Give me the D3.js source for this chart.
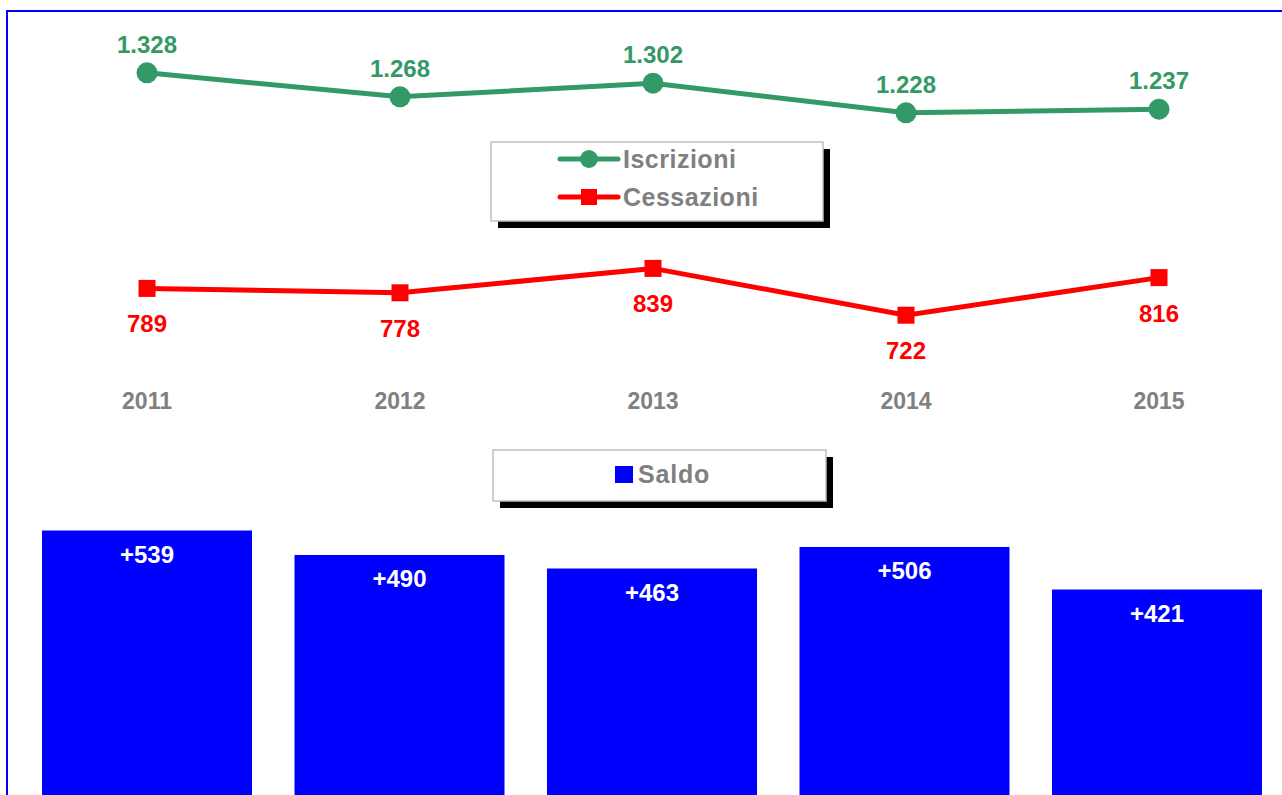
<!DOCTYPE html>
<html>
<head>
<meta charset="utf-8">
<script src="https://cdn.jsdelivr.net/npm/d3@7"></script>
<style>
  html, body { margin: 0; padding: 0; background: #fff; overflow: hidden; }
  svg { display: block; font-family: "Liberation Sans", Arial, sans-serif; font-weight: bold; }
</style>
</head>
<body>
<script>
const years = ["2011", "2012", "2013", "2014", "2015"];
const iscrizioni = [1328, 1268, 1302, 1228, 1237];
const cessazioni = [789, 778, 839, 722, 816];
const saldo = [539, 490, 463, 506, 421];
const seriesNames = ["Iscrizioni", "Cessazioni"];
const barSeriesName = "Saldo";

const W = 1282, H = 795;
const green = "#339966", red = "#ff0000", blue = "#0000ff", gray = "#808080";

const svg = d3.select("body").append("svg").attr("width", W).attr("height", H);

// frame
svg.append("line").attr("x1", 7).attr("x2", W).attr("y1", 11).attr("y2", 11)
  .attr("stroke", blue).attr("stroke-width", 2);
svg.append("line").attr("x1", 7).attr("x2", 7).attr("y1", 10).attr("y2", H)
  .attr("stroke", blue).attr("stroke-width", 2);

const itLocale = d3.formatLocale({ decimal: ",", thousands: ".", grouping: [3], currency: ["€", ""] });
const fmtThousands = itLocale.format(",d");

const x = d3.scalePoint().domain(years).range([147, 1159]);
const xb = d3.scaleBand().domain(years).range([20.75, 1283.25]).paddingInner(0.1683).paddingOuter(0.0842);
const y = d3.scaleLinear().domain([0, 1500]).range([604, 4]);
const yb = d3.scaleLinear().domain([0, 600]).range([800, 500]);

const FS = 24;

// bars
const bars = svg.append("g");
bars.selectAll("rect").data(saldo).join("rect")
  .attr("x", (d, i) => xb(years[i]))
  .attr("y", d => yb(d))
  .attr("width", xb.bandwidth())
  .attr("height", d => yb(0) - yb(d))
  .attr("fill", blue);
bars.selectAll("text").data(saldo).join("text")
  .attr("x", (d, i) => xb(years[i]) + xb.bandwidth() / 2)
  .attr("y", d => yb(d) + 32)
  .attr("text-anchor", "middle")
  .attr("font-size", FS).attr("fill", "#fff")
  .text(d => "+" + d);

// lines
const line = d3.line().x((d, i) => x(years[i])).y(d => y(d));
svg.append("path").datum(iscrizioni).attr("d", line)
  .attr("fill", "none").attr("stroke", green).attr("stroke-width", 5);
svg.append("path").datum(cessazioni).attr("d", line)
  .attr("fill", "none").attr("stroke", red).attr("stroke-width", 5);

svg.append("g").selectAll("circle").data(iscrizioni).join("circle")
  .attr("cx", (d, i) => x(years[i])).attr("cy", d => y(d)).attr("r", 10.5)
  .attr("fill", green);
svg.append("g").selectAll("rect").data(cessazioni).join("rect")
  .attr("x", (d, i) => x(years[i]) - 8.5).attr("y", d => y(d) - 8.5)
  .attr("width", 17).attr("height", 17).attr("fill", red);

svg.append("g").selectAll("text").data(iscrizioni).join("text")
  .attr("x", (d, i) => x(years[i])).attr("y", d => y(d) - 20)
  .attr("text-anchor", "middle").attr("font-size", FS).attr("fill", green)
  .text(d => fmtThousands(d));
svg.append("g").selectAll("text").data(cessazioni).join("text")
  .attr("x", (d, i) => x(years[i])).attr("y", d => y(d) + 44)
  .attr("text-anchor", "middle").attr("font-size", FS).attr("fill", red)
  .text(d => fmtThousands(d));

// year axis labels
svg.append("g").selectAll("text").data(years).join("text")
  .attr("x", d => x(d)).attr("y", 409)
  .attr("text-anchor", "middle").attr("font-size", 23).attr("fill", gray)
  .text(d => d);

// legend boxes
function box(x0, y0, w, h) {
  svg.append("rect").attr("x", x0 + 7).attr("y", y0 + 7).attr("width", w).attr("height", h).attr("fill", "#000");
  svg.append("rect").attr("x", x0).attr("y", y0).attr("width", w).attr("height", h)
    .attr("fill", "#fff").attr("stroke", "#c0c0c0").attr("stroke-width", 1.5);
}
box(491, 142, 332, 79);
const lg = svg.append("g");
[[green, 159, "circle"], [red, 197, "square"]].forEach(([c, yy, m], i) => {
  lg.append("line").attr("x1", 560).attr("x2", 618).attr("y1", yy).attr("y2", yy)
    .attr("stroke", c).attr("stroke-width", 5).attr("stroke-linecap", "round");
  if (m === "circle") lg.append("circle").attr("cx", 589).attr("cy", yy).attr("r", 9).attr("fill", c);
  else lg.append("rect").attr("x", 581).attr("y", yy - 8).attr("width", 16).attr("height", 16).attr("fill", c);
  lg.append("text").attr("x", 623).attr("y", yy + 9).attr("font-size", 25)
    .attr("letter-spacing", 0.5).attr("fill", gray).text(seriesNames[i]);
});

box(493, 450, 333, 51);
svg.append("rect").attr("x", 615).attr("y", 466).attr("width", 18).attr("height", 17).attr("fill", blue);
svg.append("text").attr("x", 638).attr("y", 483).attr("font-size", 25)
  .attr("letter-spacing", 0.8).attr("fill", gray).text(barSeriesName);
</script>
</body>
</html>
